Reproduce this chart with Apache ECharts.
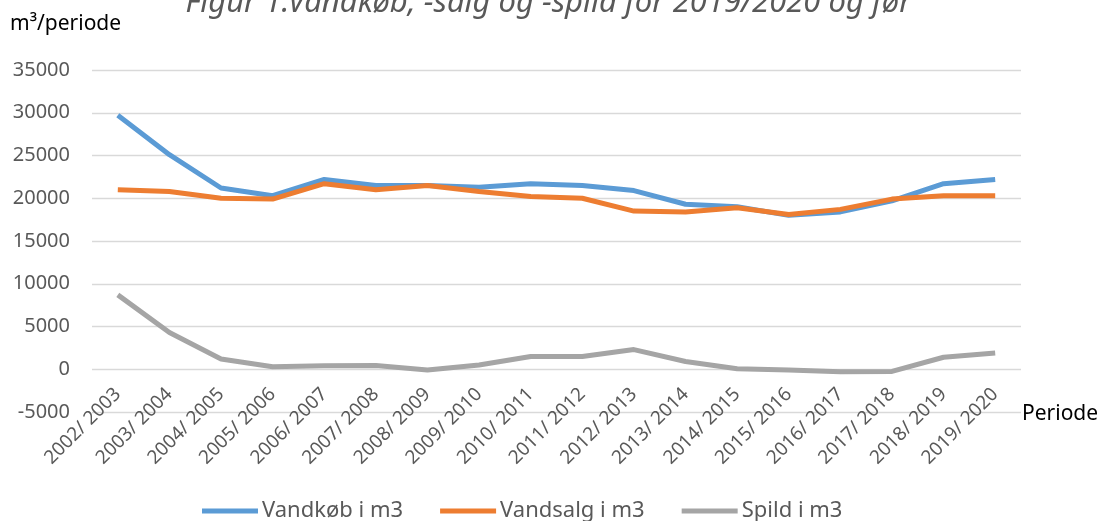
<!DOCTYPE html>
<html lang="da" style="height: 100%">
<head>
    <meta charset="UTF-8">
    <title>Vandkøb</title>
    <style>
        #main{
            width: 1097px;
            height: 521px;
        }
    </style>
    <script src="https://cdn.jsdelivr.net/npm/echarts@6/dist/echarts.min.js"></script>
</head>
<body style="margin: 0; background: #fff">
<div id="main"></div>
<script>
    var perioder = ['2002/ 2003', '2003/ 2004', '2004/ 2005', '2005/ 2006', '2006/ 2007', '2007/ 2008',
        '2008/ 2009', '2009/ 2010', '2010/ 2011', '2011/ 2012', '2012/ 2013', '2013/ 2014',
        '2014/ 2015', '2015/ 2016', '2016/ 2017', '2017/ 2018', '2018/ 2019', '2019/ 2020'];
    var vandkoeb = [29700, 25100, 21200, 20300, 22200, 21500, 21500, 21300, 21700, 21500,
        20900, 19300, 19000, 18000, 18400, 19700, 21700, 22200];
    var vandsalg = [21000, 20800, 20000, 19900, 21700, 21000, 21500, 20800, 20200, 20000,
        18500, 18400, 18900, 18100, 18700, 19900, 20300, 20300];
    var spild = [8700, 4300, 1200, 300, 400, 450, -100, 500, 1500, 1500,
        2300, 900, 50, -100, -300, -250, 1400, 1900];

    var font = '"Noto Sans", "Open Sans", sans-serif';
    var chart = echarts.init(document.getElementById('main'));

    // grid: 70..412 px for -5000..35000, so 0 ligger 42.75 px over bunden
    var option = {
        animation: false,
        textStyle: {fontFamily: font},
        title: {
            text: 'Figur 1.Vandkøb, -salg og -spild for 2019/2020 og før',
            left: 'center',
            top: -17,
            textStyle: {fontSize: 31, fontStyle: 'italic', fontWeight: 'normal', color: '#595959', fontFamily: font}
        },
        grid: {left: 92, right: 76, top: 70, bottom: 109},
        legend: {
            top: 495,
            left: 197,
            icon: 'rect',
            itemWidth: 56,
            itemHeight: 5,
            itemGap: 37,
            textStyle: {fontSize: 22, color: '#595959', fontFamily: font, padding: [0, 0, 0, -1]}
        },
        graphic: [
            {type: 'text', left: 10, top: 14, style: {text: 'm³/periode', fontSize: 21, fill: '#000', fontFamily: font}},
            {type: 'text', left: 1022, top: 404, style: {text: 'Periode', fontSize: 21, fill: '#000', fontFamily: font}}
        ],
        xAxis: {
            type: 'category',
            data: perioder,
            boundaryGap: true,
            offset: -42.75,
            axisLine: {show: false, onZero: false},
            axisTick: {show: false},
            axisLabel: {rotate: 45, fontSize: 19, color: '#595959', margin: 22, interval: 0}
        },
        yAxis: {
            type: 'value',
            min: -5000,
            max: 35000,
            interval: 5000,
            axisLine: {show: false},
            axisTick: {show: false},
            splitLine: {lineStyle: {color: '#D9D9D9', width: 1.3}},
            axisLabel: {fontSize: 20, color: '#595959', margin: 22, formatter: function (v) { return String(v); }}
        },
        series: [
            {name: 'Vandkøb i m3', type: 'line', data: vandkoeb, showSymbol: false, color: '#5B9BD5', lineStyle: {width: 5}},
            {name: 'Vandsalg i m3', type: 'line', data: vandsalg, showSymbol: false, color: '#ED7D31', lineStyle: {width: 5}},
            {name: 'Spild i m3', type: 'line', data: spild, showSymbol: false, color: '#A5A5A5', lineStyle: {width: 5}}
        ]
    };

    chart.setOption(option);
</script>
</body>
</html>
